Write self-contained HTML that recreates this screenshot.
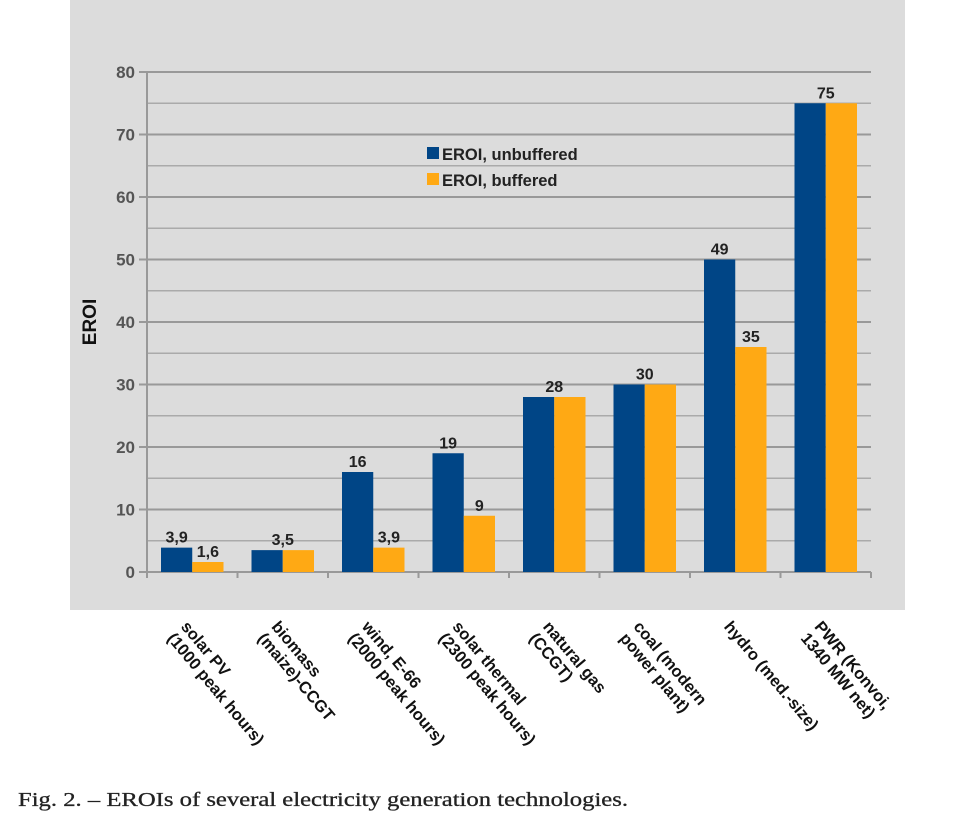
<!DOCTYPE html>
<html><head><meta charset="utf-8"><style>
body{margin:0;background:#fff;}
svg{display:block;font-family:"Liberation Sans",sans-serif;}
</style></head><body>
<svg id="chart" width="956" height="820" xmlns="http://www.w3.org/2000/svg">
<rect x="70" y="0" width="835" height="610" fill="#dcdcdc"/>
<g id="grid"></g>
<g id="bars"></g>
<g id="labels"></g>
<g id="xlabels"></g>
<text x="96" y="322" transform="rotate(-90 96 322)" text-anchor="middle" font-size="19" font-weight="bold" fill="#111">EROI</text>
<g>
<rect x="427" y="147" width="12" height="12" fill="#004586"/>
<text x="442" y="160" font-size="16.5" font-weight="bold" fill="#222">EROI, unbuffered</text>
<rect x="427" y="173" width="12" height="12" fill="#ffa914"/>
<text x="442" y="186" font-size="16.5" font-weight="bold" fill="#222">EROI, buffered</text>
</g>
<text x="18" y="806" font-family="Liberation Serif,serif" font-size="20" fill="#222" stroke="#222" stroke-width="0.3" textLength="610" lengthAdjust="spacingAndGlyphs">Fig. 2. – EROIs of several electricity generation technologies.</text>
</svg>
<script>
const categories=[["solar PV","(1000 peak hours)"],["biomass","(maize)-CCGT"],["wind, E-66","(2000 peak hours)"],["solar thermal","(2300 peak hours)"],["natural gas","(CCGT)"],["coal (modern","power plant)"],["hydro (med.-size)",""],["PWR (Konvoi,","1340 MW net)"]];
const unbuffered=[3.9,3.5,16,19,28,30,50,75];
const buffered=[1.6,3.5,3.9,9,28,30,36,75];
const unbufferedLabels=["3,9","3,5","16","19","28","30","49","75"];
const bufferedLabels=["1,6","","3,9","9","","","35",""];
const yTicks=[0,10,20,30,40,50,60,70,80];

const NS="http://www.w3.org/2000/svg";
const x0=147,x1=871,y0=572,y1=72,yMax=80;
const bw=(x1-x0)/categories.length;
function yS(v){return y0-(v/yMax)*(y0-y1);}
function xS(i){return x0+i*bw;}
function mk(tag,attrs,parent,txt){const e=document.createElementNS(NS,tag);for(const k in attrs)e.setAttribute(k,attrs[k]);if(txt!==undefined)e.textContent=txt;parent.appendChild(e);return e;}
const grid=document.getElementById('grid'),bars=document.getElementById('bars'),labels=document.getElementById('labels'),xl=document.getElementById('xlabels');
for(let v=0;v<=yMax;v+=5){
  const l=mk('line',{x1:v%10===0?x0-8:x0,x2:x1,y1:yS(v),y2:yS(v),stroke:v%10===0?'#999':'#aaa','stroke-width':v%10===0?2:1.5},grid);
  
  
}
yTicks.forEach(v=>{
  const t=mk('text',{x:x0-12,y:yS(v)+6,'text-anchor':'end','font-size':17,'font-weight':'bold',fill:'#555'},grid,String(v));
  
  
});
const ax=mk('line',{x1:x0,x2:x0,y1:y1,y2:y0+6,stroke:'#999','stroke-width':2},grid);


for(let i=0;i<=categories.length;i++){
  const tk=mk('line',{x1:xS(i),x2:xS(i),y1:y0,y2:y0+6,stroke:'#999','stroke-width':2},grid);
  
  
}
categories.forEach((c,i)=>{
  const bx=xS(i)+14,w=(bw-28)/2;
  const b1=mk('rect',{x:bx,y:yS(unbuffered[i]),width:w,height:y0-yS(unbuffered[i]),fill:'#004586'},bars);
  
  
  const b2=mk('rect',{x:bx+w,y:yS(buffered[i]),width:w,height:y0-yS(buffered[i]),fill:'#ffa914'},bars);
  
  
  if(unbufferedLabels[i]){
    const ul=(unbufferedLabels[i]===bufferedLabels[i]||!bufferedLabels[i])&&buffered[i]===unbuffered[i];
    const t=mk('text',{x:ul?bx+w:bx+w/2,y:yS(unbuffered[i])-5,'text-anchor':'middle','font-size':16,'font-weight':'bold',fill:'#222'},labels,unbufferedLabels[i]);
    
    
  }
  if(bufferedLabels[i]){
    const t=mk('text',{x:bx+w*1.5,y:yS(buffered[i])-5,'text-anchor':'middle','font-size':16,'font-weight':'bold',fill:'#222'},labels,bufferedLabels[i]);
    
    
  }
  const cx=xS(i)+bw/2-12,cy=627;
  const g=mk('text',{transform:`translate(${cx},${cy}) rotate(50)`,'font-size':16.5,'font-weight':'bold',fill:'#111'},xl);
  
  
  mk('tspan',{x:0,y:0},g,c[0]);
  if(c[1])mk('tspan',{x:0,y:18},g,c[1]);
});
</script>
</body></html>
